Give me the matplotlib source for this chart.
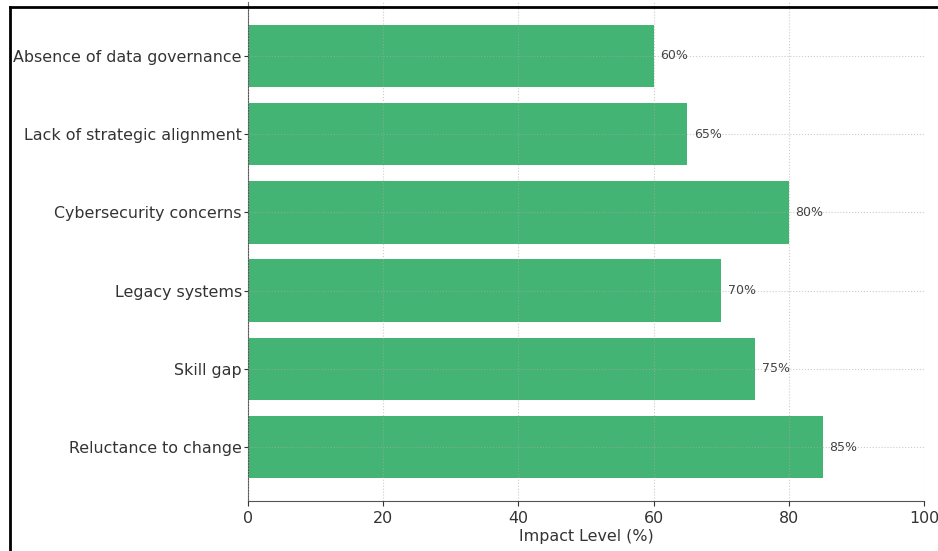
import matplotlib
matplotlib.use('Agg')
import matplotlib.pyplot as plt
from matplotlib.lines import Line2D

# barriers, listed from bottom to top
barriers = ["Reluctance to change", "Skill gap", "Legacy systems",
            "Cybersecurity concerns", "Lack of strategic alignment",
            "Absence of data governance"]
impact = [85, 75, 70, 80, 65, 60]

fig = plt.figure(figsize=(9.38, 5.51), dpi=100)
ax = fig.add_axes([248/938, 50/551, 676/938, 499/551])

bars = ax.barh(barriers, impact, color='#44b474', height=0.8)
for b, v in zip(bars, impact):
    ax.text(b.get_width() + 1, b.get_y() + b.get_height()/2, f"{v}%",
            va='center', ha='left', fontsize=9, color='#444444')

ax.set_xlim(0, 100)
ax.set_ylim(-0.69, 5.69)
ax.set_xlabel("Impact Level (%)", fontsize=11.4, color='#333333', labelpad=2)
ax.tick_params(axis='both', labelsize=11.4, colors='#333333')
ax.tick_params(axis='y', pad=1.5, length=3)
ax.grid(True, linestyle=':', color='#aaaaaa', linewidth=0.8, alpha=0.6)
ax.set_axisbelow(False)
ax.spines['top'].set_visible(False)
ax.spines['right'].set_visible(False)
for s in ['left', 'bottom']:
    ax.spines[s].set_color('#555555')

# frame around the chart
fig.add_artist(Line2D([10/938, 1], [1 - 7/551, 1 - 7/551], color='black', lw=2))
fig.add_artist(Line2D([10/938, 10/938], [0, 1 - 7/551], color='black', lw=2))

plt.savefig("out.png", dpi=100)
